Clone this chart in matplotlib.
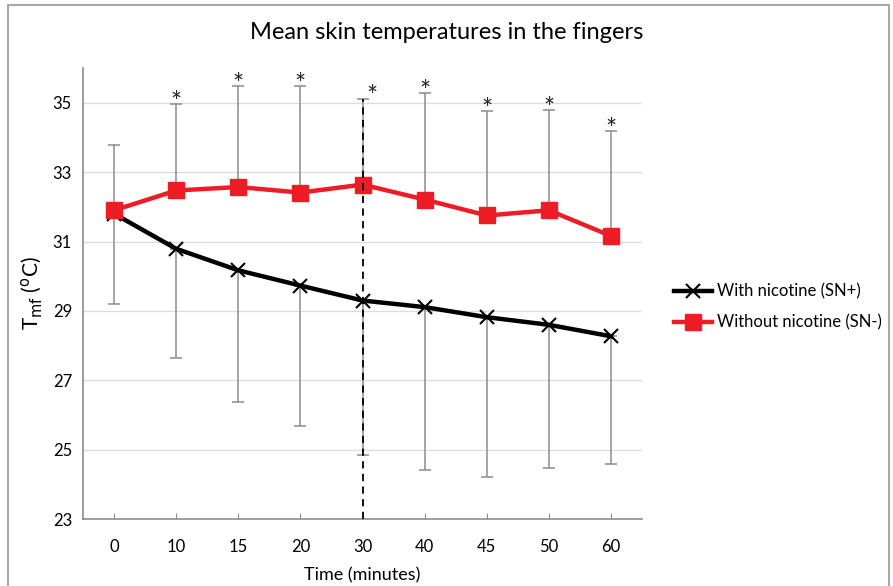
import matplotlib
matplotlib.use("Agg")
import matplotlib.pyplot as plt
from matplotlib.patches import Rectangle
import numpy as np

plt.rcParams["font.family"] = ["Lato", "DejaVu Sans"]

times = ["0", "10", "15", "20", "30", "40", "45", "50", "60"]
with_nicotine = [31.80, 30.79, 30.17, 29.73, 29.30, 29.11, 28.82, 28.60, 28.27]
with_nicotine_low = [29.19, 27.64, 26.39, 25.68, 24.86, 24.42, 24.23, 24.48, 24.60]
without_nicotine = [31.90, 32.47, 32.57, 32.41, 32.64, 32.21, 31.75, 31.90, 31.16]
without_nicotine_high = [33.79, 34.96, 35.47, 35.49, 35.12, 35.27, 34.76, 34.78, 34.18]
significant = [False, True, True, True, True, True, True, True, True]
y_ticks = [23, 25, 27, 29, 31, 33, 35]

x = np.arange(len(times))
sn_pos = np.array(with_nicotine)
sn_neg = np.array(without_nicotine)
err_low = sn_pos - np.array(with_nicotine_low)
err_high = np.array(without_nicotine_high) - sn_neg

fig = plt.figure(figsize=(8.93, 5.86), dpi=100)
ax = fig.add_axes([0.093, 0.114, 0.626, 0.770])

grey = "#8c8c8c"
ax.errorbar(x, sn_pos, yerr=[err_low, np.zeros_like(err_low)], fmt="none",
            ecolor=grey, elinewidth=1.1, capsize=4, capthick=1.1, zorder=2)
ax.errorbar(x, sn_neg, yerr=[np.zeros_like(err_high), err_high], fmt="none",
            ecolor=grey, elinewidth=1.1, capsize=4, capthick=1.1, zorder=2)

ax.plot(x, sn_pos, color="black", lw=3.2, marker="x", markersize=10,
        markeredgewidth=1.5, label="With nicotine (SN+)", zorder=3)
ax.plot(x, sn_neg, color="#ee1c25", lw=3.2, marker="s", markersize=12,
        label="Without nicotine (SN-)", zorder=4)

# dashed marker at 30 min
i30 = times.index("30")
ax.vlines(i30, 23, without_nicotine_high[i30], colors="black",
          linestyles=(0, (4, 3)), lw=1.3, zorder=5)

for i, flag in enumerate(significant):
    if flag:
        dx = 7 if i == i30 else 0
        ax.annotate("*", (x[i], without_nicotine_high[i]), xytext=(dx, -5),
                    textcoords="offset points", ha="center", va="baseline",
                    fontsize=19, color="#222222")

ax.set_xlim(-0.5, len(times) - 0.5)
ax.set_ylim(23, 36)
ax.set_xticks(x)
ax.set_xticklabels(times)
ax.set_yticks(y_ticks)
ax.tick_params(axis="x", direction="in", length=4, color=grey, labelsize=12, pad=14)
ax.tick_params(axis="y", length=0, labelsize=12, pad=8)
ax.grid(axis="y", color="#dcdcdc", lw=1)
ax.set_axisbelow(True)
for side in ["top", "right"]:
    ax.spines[side].set_visible(False)
for side in ["left", "bottom"]:
    ax.spines[side].set_color(grey)
    ax.spines[side].set_linewidth(1.2)

ax.set_xlabel("Time (minutes)", fontsize=13, labelpad=9)
ax.set_ylabel(r"T$_{\mathrm{mf}}$ ($^{\mathrm{o}}$C)", fontsize=15, labelpad=6)
fig.text(0.5, 0.945, "Mean skin temperatures in the fingers", ha="center",
         va="center", fontsize=17)

ax.legend(loc="center left", bbox_to_anchor=(1.03, 0.47), frameon=False,
          fontsize=12, handlelength=2.3, handletextpad=0.3, labelspacing=0.9)

fig.add_artist(Rectangle((0.009, -0.01), 0.9865, 1.001, transform=fig.transFigure,
                         fill=False, edgecolor="#a8a8a8", lw=1.5))

fig.savefig("out.png", dpi=100)
